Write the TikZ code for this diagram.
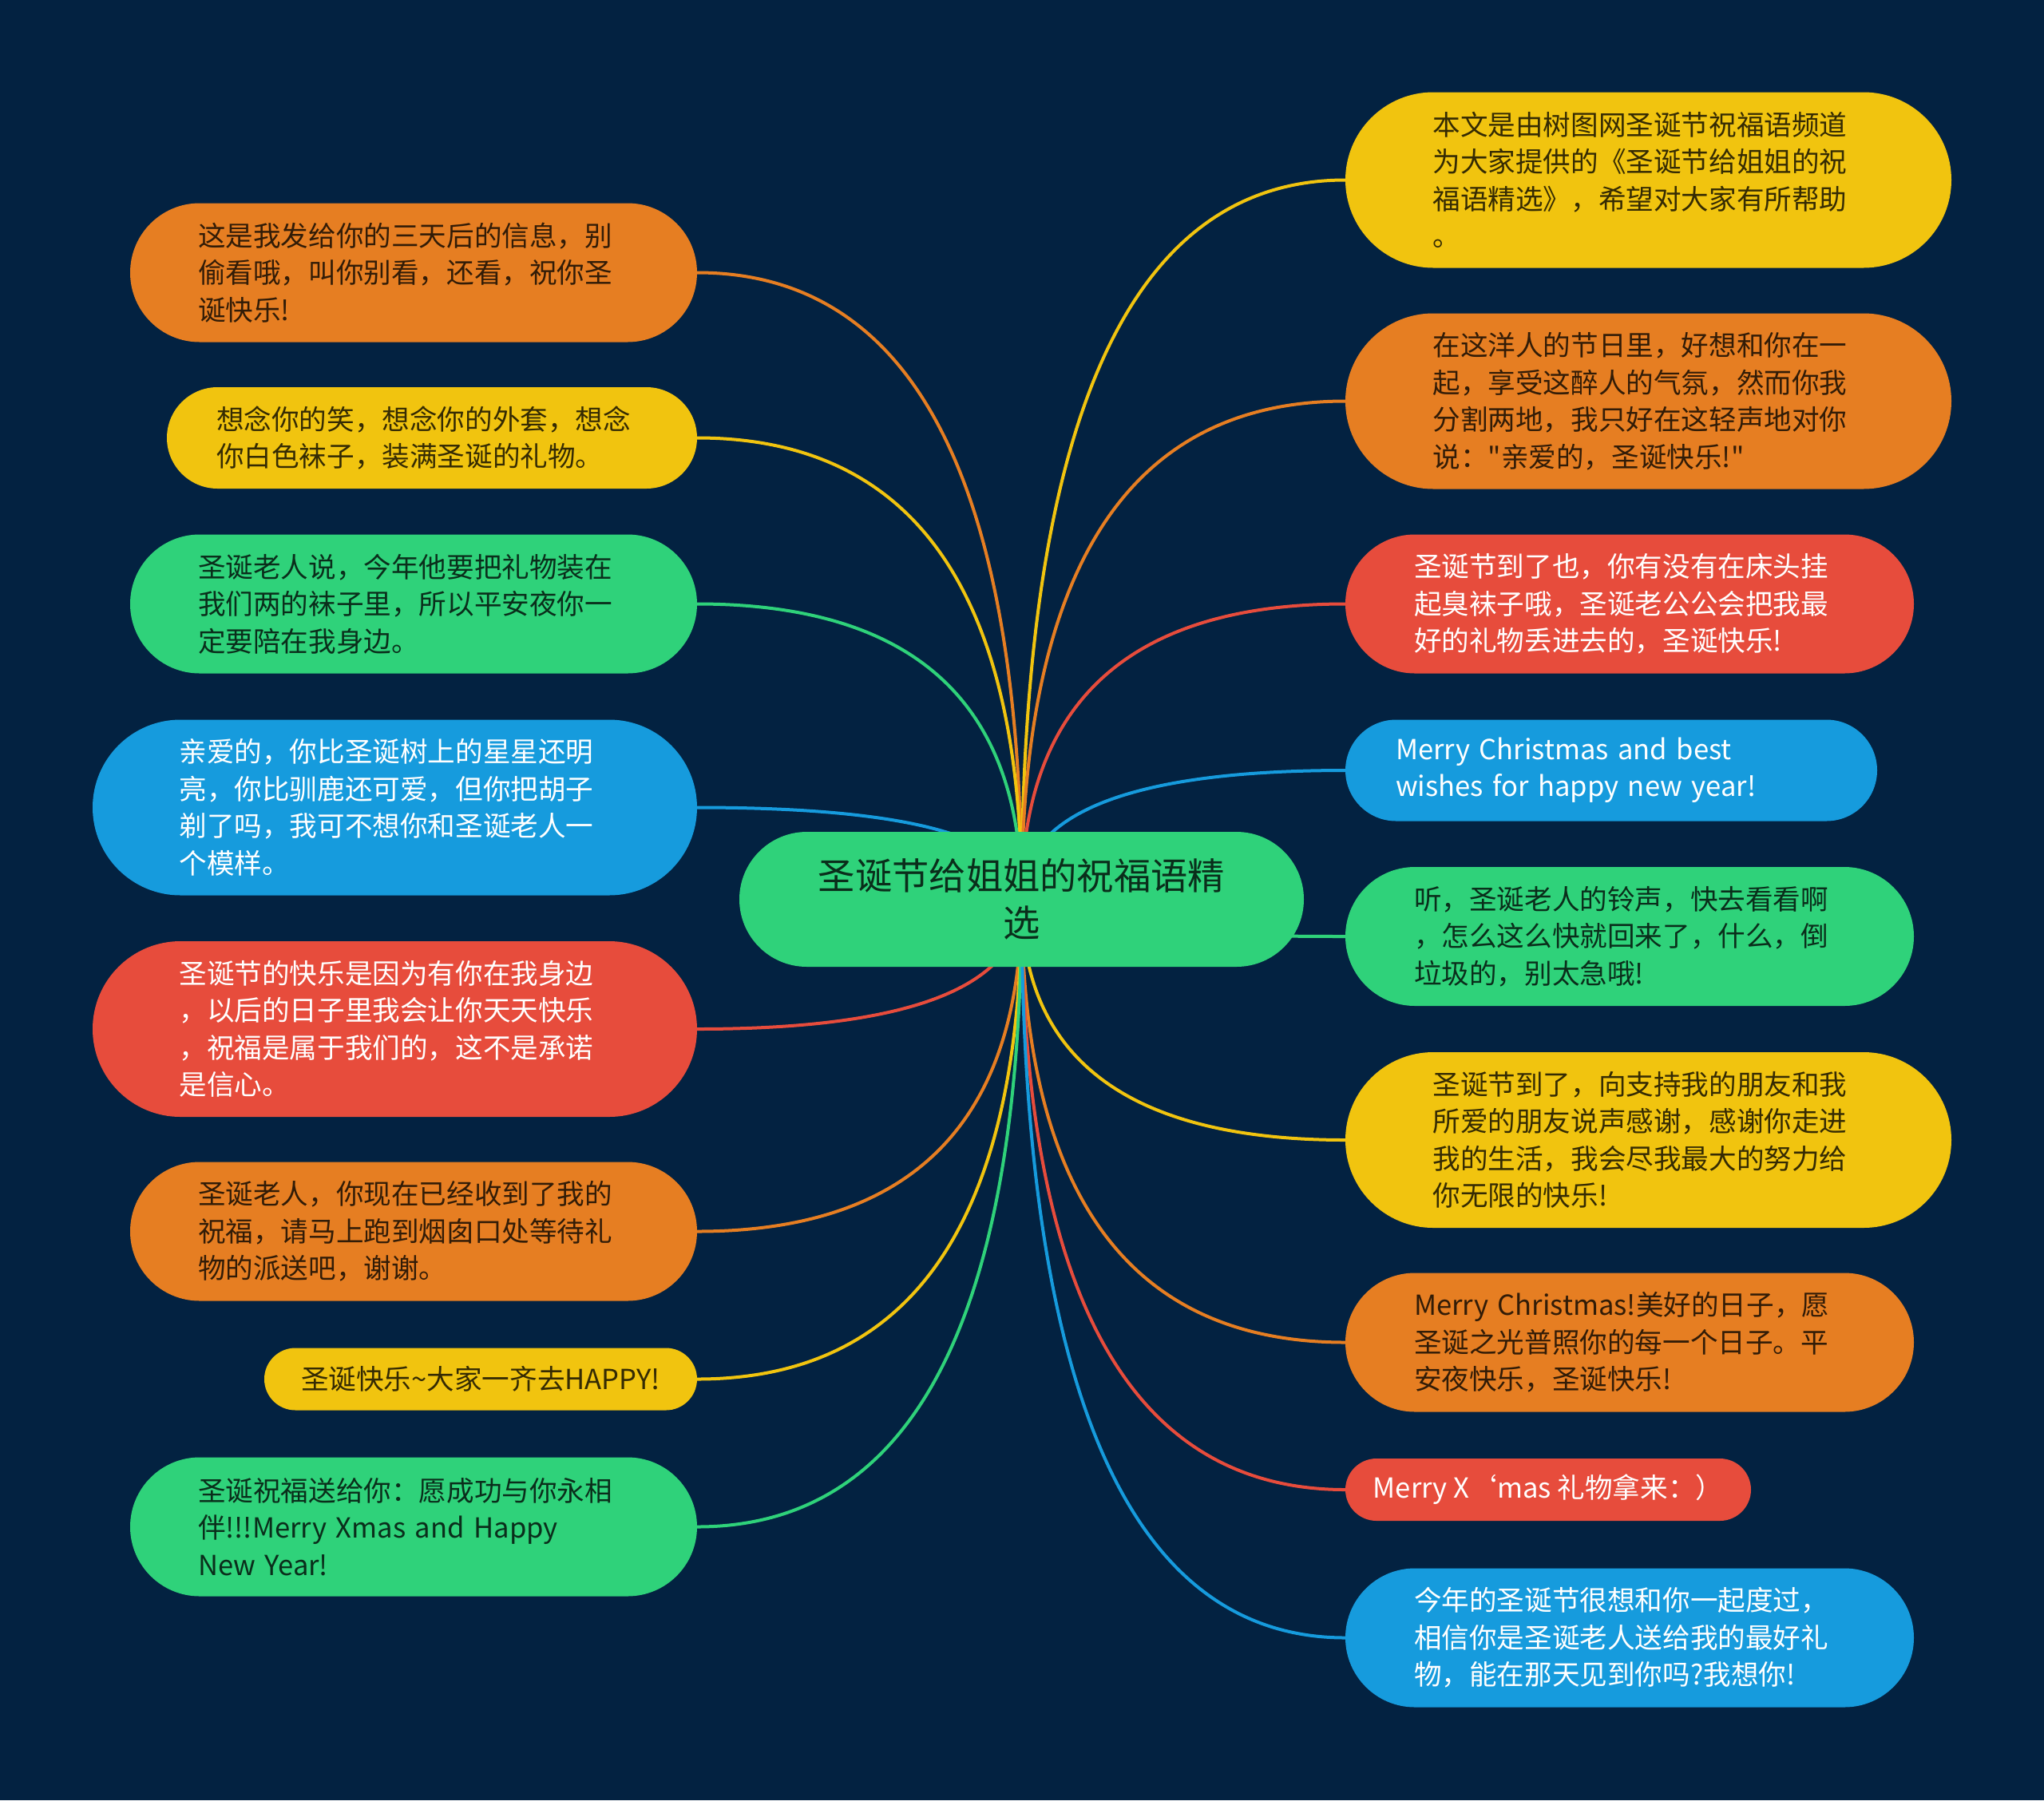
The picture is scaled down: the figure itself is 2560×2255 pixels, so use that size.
\documentclass[tikz,border=0pt]{standalone}
\usepackage{fontspec}
\setmainfont{Noto Sans CJK SC}
\newfontfamily\cjkf{Noto Sans CJK SC}
\usetikzlibrary{calc}
\definecolor{bgc}{HTML}{032241}
\definecolor{corange}{HTML}{E67E22}
\definecolor{cyellow}{HTML}{F1C40F}
\definecolor{cgreen}{HTML}{2FD27A}
\definecolor{cblue}{HTML}{169BDD}
\definecolor{cred}{HTML}{E74C3C}
\pgfdeclarelayer{bglayer}
\pgfdeclarelayer{edgelayer}
\pgfsetlayers{bglayer,edgelayer,main}
\tikzset{
  bubble/.style={inner sep=0pt, align=left, font=\cjkf\fontsize{34.6}{46.5}\selectfont},
  multi/.style={text width=540pt},
  hA/.style={minimum height=78pt, rounded corners=39pt},
  hB/.style={minimum height=127pt, rounded corners=63.5pt},
  hC/.style={minimum height=174pt, rounded corners=87pt},
  hD/.style={minimum height=220pt, rounded corners=110pt},
  orangeb/.style={fill=corange, text=corange!22!black},
  yellowb/.style={fill=cyellow, text=cyellow!22!black},
  greenb/.style={fill=cgreen, text=cgreen!22!black},
  blueb/.style={fill=cblue, text=white},
  redb/.style={fill=cred, text=white},
  link/.style={line width=4pt},
}
\begin{document}
\begin{tikzpicture}[x=1pt,y=-1pt]
\begin{pgfonlayer}{bglayer}
\fill[bgc] (0,0) rectangle (2560,2255);
\end{pgfonlayer}
\useasboundingbox (0,0) rectangle (2560,2255);

% center
\node[fill=cgreen, text=cgreen!22!black, inner sep=0pt, align=center,
      minimum width=707pt, minimum height=169pt, rounded corners=84.5pt,
      font=\cjkf\fontsize{46.3}{59}\selectfont] (C) at (1279.5,1126.5)
      {圣诞节给姐姐的祝福语精\\选};

% left
\node[bubble,multi,hC,orangeb,minimum width=710pt] (L1) at (518,341.5)
  {这是我发给你的三天后的信息，别\\偷看哦，叫你别看，还看，祝你圣\\诞快乐!};
\node[bubble,multi,hB,yellowb,minimum width=664pt] (L2) at (541,548.5)
  {想念你的笑，想念你的外套，想念\\你白色袜子，装满圣诞的礼物。};
\node[bubble,multi,hC,greenb,minimum width=710pt] (L3) at (518,756.5)
  {圣诞老人说，今年他要把礼物装在\\我们两的袜子里，所以平安夜你一\\定要陪在我身边。};
\node[bubble,multi,hD,blueb,minimum width=757pt] (L4) at (494.5,1011.5)
  {亲爱的，你比圣诞树上的星星还明\\亮，你比驯鹿还可爱，但你把胡子\\剃了吗，我可不想你和圣诞老人一\\个模样。};
\node[bubble,multi,hD,redb,minimum width=757pt] (L5) at (494.5,1289)
  {圣诞节的快乐是因为有你在我身边\\，以后的日子里我会让你天天快乐\\，祝福是属于我们的，这不是承诺\\是信心。};
\node[bubble,multi,hC,orangeb,minimum width=710pt] (L6) at (518,1542.5)
  {圣诞老人，你现在已经收到了我的\\祝福，请马上跑到烟囱口处等待礼\\物的派送吧，谢谢。};
\node[bubble,hA,yellowb,minimum width=542pt] (L7) at (602,1727.5)
  {圣诞快乐\textasciitilde{}大家一齐去HAPPY!};
\node[bubble,multi,hC,greenb,minimum width=710pt] (L8) at (518,1912.5)
  {圣诞祝福送给你：愿成功与你永相\\伴!!!Merry Xmas and Happy\\New Year!};

% right
\node[bubble,multi,hD,yellowb,minimum width=759pt] (R1) at (2064.5,225.5)
  {本文是由树图网圣诞节祝福语频道\\为大家提供的《圣诞节给姐姐的祝\\福语精选》，希望对大家有所帮助\\。};
\node[bubble,multi,hD,orangeb,minimum width=759pt] (R2) at (2064.5,502.5)
  {在这洋人的节日里，好想和你在一\\起，享受这醉人的气氛，然而你我\\分割两地，我只好在这轻声地对你\\说："亲爱的，圣诞快乐!"};
\node[bubble,multi,hC,redb,minimum width=712pt] (R3) at (2041,756.5)
  {圣诞节到了也，你有没有在床头挂\\起臭袜子哦，圣诞老公公会把我最\\好的礼物丢进去的，圣诞快乐!};
\node[bubble,multi,hB,blueb,minimum width=666pt] (R4) at (2018,965)
  {Merry Christmas and best\\wishes for happy new year!};
\node[bubble,multi,hC,greenb,minimum width=712pt] (R5) at (2041,1173)
  {听，圣诞老人的铃声，快去看看啊\\，怎么这么快就回来了，什么，倒\\垃圾的，别太急哦!};
\node[bubble,multi,hD,yellowb,minimum width=759pt] (R6) at (2064.5,1428)
  {圣诞节到了，向支持我的朋友和我\\所爱的朋友说声感谢，感谢你走进\\我的生活，我会尽我最大的努力给\\你无限的快乐!};
\node[bubble,multi,hC,orangeb,minimum width=712pt] (R7) at (2041,1681.5)
  {Merry Christmas!美好的日子，愿\\圣诞之光普照你的每一个日子。平\\安夜快乐，圣诞快乐!};
\node[bubble,hA,redb,minimum width=508pt] (R8) at (1939,1866)
  {Merry X‘mas 礼物拿来：）};
\node[bubble,multi,hC,blueb,minimum width=712pt] (R9) at (2041,2051.5)
  {今年的圣诞节很想和你一起度过，\\相信你是圣诞老人送给我的最好礼\\物，能在那天见到你吗?我想你!};

\begin{pgfonlayer}{edgelayer}
\foreach \n/\a/\c in {L1/east/corange, L2/east/cyellow, L3/east/cgreen,
    L4/east/cblue, L5/east/cred, L6/east/corange, L7/east/cyellow,
    L8/east/cgreen, R1/west/cyellow, R2/west/corange, R3/west/cred,
    R4/west/cblue, R5/west/cgreen, R6/west/cyellow, R7/west/corange,
    R8/west/cred, R9/west/cblue} {
  \coordinate (k) at (C.center |- \n.\a);
  \draw[link, \c] (C.center) .. controls ($(C.center)!0.6667!(k)$)
       and ($(\n.\a)!0.6667!(k)$) .. (\n.\a);
}
\end{pgfonlayer}
\end{tikzpicture}
\end{document}
